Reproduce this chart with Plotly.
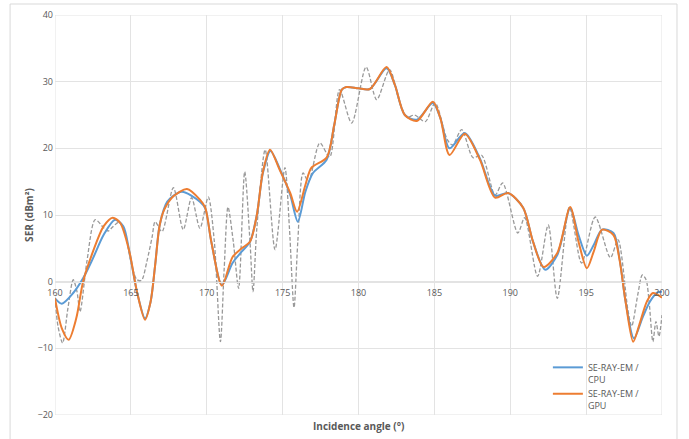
import plotly.graph_objects as go

# ---- data ----
ref_x = [160.0, 160.2, 160.5, 160.85, 161.2, 161.45, 161.65, 162.1, 162.65, 163.2, 163.5, 163.8,
         164.2, 164.6, 165.0, 165.4, 165.7, 166.05, 166.4, 166.6, 167.05, 167.8, 168.45, 169.0,
         169.55, 170.1, 170.5, 170.9, 171.15, 171.4, 171.75, 172.1, 172.5, 172.85, 173.05, 173.3,
         173.85, 174.5, 175.15, 175.45, 175.75, 176.0, 176.35, 176.7, 177.45, 178.1, 178.75, 179.55,
         180.5, 181.2, 182.05, 182.7, 183.2, 183.7, 184.4, 185.05, 185.85, 186.2, 186.8, 187.55,
         188.1, 189.0, 189.5, 190.5, 190.95, 191.8, 192.5, 193.1, 193.9, 194.7, 195.6, 196.6,
         197.1, 197.75, 198.0, 198.4, 198.7, 198.95, 199.15, 199.4, 199.6, 199.8, 200.0]
ref_y = [-2.4, -6.7, -9.2, -4.0, 0.3, -1.5, -4.5, 3.0, 9.3, 8.1, 7.6, 8.2,
         8.9, 7.5, 3.0, 0.3, 0.2, 3.0, 6.7, 9.0, 7.5, 14.1, 7.8, 12.6,
         8.0, 12.7, 6.0, -9.0, 2.0, 11.2, 6.0, -1.0, 16.5, 6.0, -1.5, 8.0,
         19.8, 4.8, 17.1, 8.0, -3.9, 6.0, 16.3, 15.0, 20.8, 18.7, 28.8, 23.8,
         32.2, 27.3, 31.8, 27.0, 24.7, 25.0, 24.0, 26.8, 21.3, 20.5, 22.8, 18.6,
         19.0, 13.0, 14.8, 7.3, 9.6, 0.8, 8.5, -2.5, 11.2, 2.8, 9.7, 3.6,
         6.3, -4.2, -6.7, -2.0, 1.0, 0.3, -3.0, -9.0, -6.0, -8.2, -5.0]

gpu_x = [160.0, 160.45, 160.9, 161.4, 161.85, 162.5, 163.2, 163.8, 164.3, 164.9, 165.4, 165.93,
         166.3, 166.6, 166.9, 167.2, 167.8, 168.7, 169.55, 169.9, 170.3, 171.0, 171.7, 172.3,
         172.85, 173.3, 173.7, 174.17, 174.8, 175.5, 175.95, 176.5, 176.9, 177.9, 178.4, 178.9,
         179.2, 180.0, 180.75, 181.85, 182.4, 183.05, 183.85, 184.9, 185.4, 186.0, 187.0, 188.0,
         189.0, 189.85, 190.85, 191.5, 192.2, 193.1, 193.95, 194.5, 195.05, 195.5, 196.05, 196.8,
         197.2, 197.6, 198.1, 198.5, 199.0, 199.4, 200.0]
gpu_y = [-2.5, -7.0, -8.7, -5.5, 0.0, 4.5, 8.3, 9.6, 8.8, 4.5, -1.5, -5.7,
         -3.0, 2.5, 8.5, 10.8, 12.8, 13.9, 12.3, 11.1, 6.0, -0.6, 3.7, 5.0,
         6.0, 10.0, 16.5, 19.8, 16.8, 13.3, 10.5, 14.5, 17.1, 18.6, 23.5, 28.8,
         29.2, 29.0, 28.9, 32.2, 29.5, 25.0, 24.1, 27.0, 24.5, 19.0, 22.2, 18.3,
         12.6, 13.3, 11.1, 6.0, 2.2, 4.3, 11.2, 6.0, 2.0, 4.5, 7.8, 7.0,
         3.3, -3.0, -9.0, -6.5, -3.0, -1.7, -2.4]

cpu_x = [160.0, 160.45, 161.2, 161.85, 162.5, 163.2, 163.95, 164.5, 164.9, 165.4, 165.93, 166.3,
         166.6, 166.9, 167.4, 168.35, 169.55, 169.9, 170.3, 171.0, 171.7, 172.3, 172.85, 173.3,
         173.7, 174.2, 174.8, 175.5, 176.0, 176.5, 177.0, 177.9, 178.4, 178.9, 179.2, 180.0,
         180.75, 181.85, 182.4, 183.05, 183.85, 184.9, 185.4, 186.0, 187.0, 188.0, 189.0, 189.85,
         190.85, 191.5, 192.3, 193.1, 193.95, 194.5, 195.05, 195.5, 196.05, 196.8, 197.2, 197.6,
         198.15, 198.75, 199.2, 199.7, 200.0]
cpu_y = [-2.5, -3.3, -1.7, 0.5, 3.5, 7.0, 9.3, 8.3, 4.5, -1.5, -5.5, -3.0,
         2.5, 8.5, 12.0, 13.5, 12.0, 11.0, 6.0, -0.5, 2.8, 4.5, 6.0, 10.0,
         16.3, 19.6, 17.0, 13.0, 9.0, 13.5, 16.3, 18.3, 23.5, 28.8, 29.2, 29.0,
         28.9, 32.0, 29.5, 25.0, 24.3, 26.8, 24.5, 20.0, 22.3, 18.5, 12.9, 13.3,
         11.1, 6.0, 1.8, 4.0, 11.0, 7.0, 3.9, 5.5, 7.8, 7.3, 3.5, -3.0,
         -8.5, -5.2, -3.0, -1.6, -1.5]

x_ticks = [160, 165, 170, 175, 180, 185, 190, 195, 200]
y_ticks = [-20, -10, 0, 10, 20, 30, 40]

FONT = "Open Sans"
TXT = "#595959"
GRID = "#e3e3e3"

fig = go.Figure()
fig.add_trace(go.Scatter(x=ref_x, y=ref_y, mode="lines", showlegend=False,
                         line=dict(color="#999999", width=1.3, dash="4px,2px", shape="spline", smoothing=0.8)))
fig.add_trace(go.Scatter(x=cpu_x, y=cpu_y, mode="lines", name="SE-RAY-EM /<br>CPU",
                         line=dict(color="#5B9BD5", width=2, shape="spline", smoothing=0.8)))
fig.add_trace(go.Scatter(x=gpu_x, y=gpu_y, mode="lines", name="SE-RAY-EM /<br>GPU",
                         line=dict(color="#ED7D31", width=2, shape="spline", smoothing=0.8)))

# plot-area frame (Excel draws gridlines at both ends)
fig.add_shape(type="rect", xref="x", yref="y", x0=x_ticks[0], x1=x_ticks[-1], y0=y_ticks[0], y1=y_ticks[-1],
              line=dict(color=GRID, width=1), layer="below")
# outer chart border
fig.add_shape(type="rect", xref="paper", yref="paper", x0=-0.074, x1=1.0247, y0=-0.08, y1=1.0275,
              line=dict(color="#d9d9d9", width=1), layer="below")

fig.update_layout(
    width=689, height=439,
    margin=dict(l=55, r=27, t=15, b=24, autoexpand=False),
    paper_bgcolor="white", plot_bgcolor="white",
    font=dict(family=FONT, size=9, color=TXT),
    xaxis=dict(range=[160, 200], tickvals=x_ticks, showgrid=True, gridcolor=GRID, gridwidth=1,
               zeroline=False, showline=True, linecolor=GRID, anchor="free", position=1/3,
               ticks="", tickfont=dict(size=9, color=TXT), automargin=False, ticklabelstandoff=3),
    yaxis=dict(range=[-20, 40], tickvals=y_ticks, showgrid=True, gridcolor=GRID, gridwidth=1,
               zeroline=False, ticks="", tickfont=dict(size=9, color=TXT), automargin=False,
               ticklabelstandoff=1,
               title=dict(text="<b>SER (dBm²)</b>", font=dict(size=10, color=TXT), standoff=2)),
    legend=dict(x=0.812, y=0.15, xanchor="left", yanchor="top", bgcolor="rgba(0,0,0,0)",
                font=dict(size=9, color=TXT), valign="top", tracegroupgap=0, itemwidth=30),
    annotations=[dict(text="<b>Incidence angle (°)</b>", xref="paper", yref="paper", x=0.5, y=-0.027,
                      xanchor="center", yanchor="middle", showarrow=False, font=dict(size=10, color=TXT))],
)

fig.write_html("out.html", config={"displayModeBar": False},
               post_script="document.body.style.margin='0';document.body.style.overflow='hidden';")
